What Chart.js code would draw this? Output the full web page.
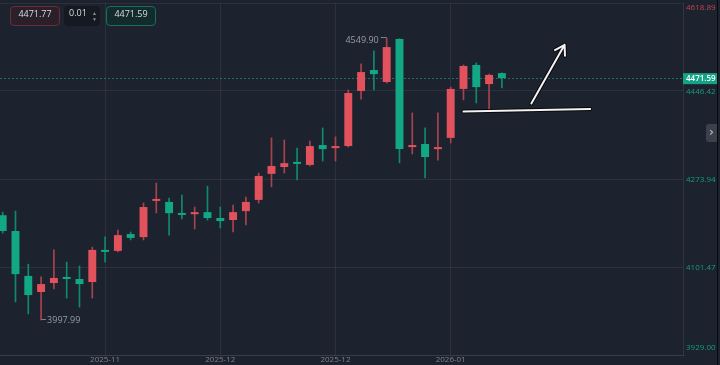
<!DOCTYPE html>
<html>
<head>
<meta charset="utf-8">
<script src="https://cdn.jsdelivr.net/npm/chart.js@4.4.1/dist/chart.umd.min.js"></script>
<style>
  html, body { margin: 0; padding: 0; background: #1c222e; }
  #wrap { position: relative; width: 720px; height: 365px; overflow: hidden; }
  canvas { position: absolute; left: 0; top: 0; }
  .box { position: absolute; top: 6px; height: 20px; line-height: 20px; border-radius: 4px;
         font: 9px "Open Sans", sans-serif; color: #d9dce1; text-align: center; box-sizing: border-box; }
  #ask { left: 10px; width: 50px; border: 1px solid #6c2e39; background: #2a2029; }
  #step { left: 64px; width: 36px; background: #141922; text-align: left; padding-left: 5px; }
  #step span { position: absolute; right: 3px; top: 0; font-size: 5px; line-height: 6px; color: #8a909b; padding-top: 4px; }
  #bid { left: 106px; width: 50px; border: 1px solid #176f5f; background: #142b2c; }
  #tab { position: absolute; left: 706px; top: 124px; width: 11px; height: 18px; background: #3a404c;
         border-radius: 3px 0 0 3px; color: #c4c8cf; font: 12px "DejaVu Sans", sans-serif; line-height: 17px; text-align: center; }
  #edge { position: absolute; left: 717px; top: 0; width: 1px; height: 365px; background: #07090d; }
</style>
</head>
<body>
<div id="wrap">
  <canvas id="chart" width="720" height="365"></canvas>
  <div class="box" id="ask">4471.77</div>
  <div class="box" id="step">0.01<span>▲<br>▼</span></div>
  <div class="box" id="bid">4471.59</div>
  <div id="tab">›</div>
  <div id="edge"></div>
</div>
<script>
// candles, one per slot (index 0..39)
var opens  = [4203, 4172, 4084, 4052.5, 4070, 4082, 4078, 4072, 4135, 4133,
              4166, 4160, 4231, 4229, 4207, 4205, 4209, 4197.5, 4193.5, 4211,
              4233, 4284, 4297.5, 4307, 4301.5, 4340.5, 4334.5, 4338.5, 4446.5, 4487.5,
              4464, 4548.5, 4336.5, 4342.5, 4332.5, 4354.5, 4450.5, 4497.5, 4460, 4481.5];
var highs  = [4209, 4211, 4107, 4082, 4135, 4111, 4103.5, 4140.5, 4160.5, 4174,
              4170, 4227, 4266, 4236.5, 4242.5, 4219, 4260, 4219, 4223, 4238.5,
              4285.5, 4354.5, 4350.5, 4334.5, 4348.5, 4374, 4356.5, 4448.5, 4499.5, 4525,
              4549.9, 4549, 4403.5, 4374, 4403.5, 4454, 4497.5, 4501.5, 4479.5, 4482];
var lows   = [4168, 4033, 4009.5, 3997.99, 4058.5, 4040.5, 4023, 4040.5, 4111, 4131,
              4154.5, 4154.5, 4207.5, 4164, 4195.5, 4176, 4193.5, 4178, 4170, 4184,
              4227, 4258.5, 4285.5, 4272, 4299.5, 4309, 4309, 4336.5, 4430.5, 4448.5,
              4462, 4305.5, 4323, 4276, 4311, 4344.5, 4429, 4423, 4409, 4452.5];
var closes = [4172, 4087.5, 4046.5, 4068, 4080, 4078, 4068, 4135, 4131, 4164,
              4158.5, 4219, 4233, 4207, 4203.5, 4209, 4197.5, 4191.5, 4209, 4229,
              4280, 4299.5, 4305, 4303.5, 4338.5, 4332.5, 4338.5, 4442.5, 4483.5, 4479.5,
              4532.5, 4332.5, 4340.5, 4317, 4334.5, 4450.5, 4495.5, 4454, 4478, 4471.59];

var xTickPos = [8, 17, 26, 35];
var xTickLabels = ['2025-11', '2025-12', '2025-12', '2026-01'];
var yTicks = [3929.00, 4101.47, 4273.94, 4446.42, 4618.89];
var lastPrice = 4471.59;
var highMark = [30, 4549.90];
var lowMark = [3, 3997.99];

// hand drawn marks, in [slot, price]
var trendLine = [[36.0, 4406], [45.9, 4411]];
var arrowLine = [[41.3, 4422], [43.9, 4537]];

var UP = '#e2525c', DOWN = '#12a886';
var UP_WICK = '#a8434e', DOWN_WICK = '#0f8a70';
var GRID = 'rgba(255,255,255,0.065)';

var bodies = [], wicks = [], bodyCol = [], wickCol = [];
for (var i = 0; i < opens.length; i++) {
    var up = closes[i] >= opens[i];
    bodies.push({ x: i, y: [Math.min(opens[i], closes[i]), Math.max(opens[i], closes[i])] });
    wicks.push({ x: i, y: [lows[i], highs[i]] });
    bodyCol.push(up ? UP : DOWN);
    wickCol.push(up ? UP_WICK : DOWN_WICK);
}

var bgPlugin = {
    id: 'bg',
    beforeDraw: function (chart) {
        var c = chart.ctx;
        c.save();
        c.fillStyle = '#1c222e';
        c.fillRect(0, 0, chart.width, chart.height);
        c.restore();
    }
};

var priceLine = {
    id: 'priceLine',
    beforeDatasetsDraw: function (chart) {
        var c = chart.ctx, a = chart.chartArea;
        var y = chart.scales.y.getPixelForValue(lastPrice);
        c.save();
        c.strokeStyle = '#1f6e61';
        c.lineWidth = 1;
        c.setLineDash([2, 2]);
        c.beginPath();
        c.moveTo(a.left, Math.round(y) + 0.5);
        c.lineTo(a.right, Math.round(y) + 0.5);
        c.stroke();
        c.restore();
    }
};

var marks = {
    id: 'marks',
    afterDatasetsDraw: function (chart) {
        var c = chart.ctx, xs = chart.scales.x, ys = chart.scales.y;
        c.save();
        c.font = '9px "Open Sans", sans-serif';
        c.fillStyle = '#979ca6';
        c.strokeStyle = '#7b808a';
        c.lineWidth = 1;
        c.textBaseline = 'middle';

        // high label
        var hx = xs.getPixelForValue(highMark[0]), hy = ys.getPixelForValue(highMark[1]);
        c.beginPath();
        c.moveTo(hx - 6, Math.round(hy) - 0.5);
        c.lineTo(hx, Math.round(hy) - 0.5);
        c.stroke();
        c.textAlign = 'right';
        c.fillText(highMark[1].toFixed(2), hx - 8, hy + 2);

        // low label
        var lx = xs.getPixelForValue(lowMark[0]), ly = ys.getPixelForValue(lowMark[1]);
        c.beginPath();
        c.moveTo(lx, Math.round(ly) - 0.5);
        c.lineTo(lx + 5, Math.round(ly) - 0.5);
        c.stroke();
        c.textAlign = 'left';
        c.fillText(lowMark[1].toFixed(2), lx + 6, ly + 1);

        // hand drawn line + arrow
        function px(p) { return [xs.getPixelForValue(p[0]), ys.getPixelForValue(p[1])]; }
        var t0 = px(trendLine[0]), t1 = px(trendLine[1]);
        var a0 = px(arrowLine[0]), a1 = px(arrowLine[1]);
        var ang = Math.atan2(a1[1] - a0[1], a1[0] - a0[0]);
        var head = 11;
        function drawMarks(color, w) {
            c.strokeStyle = color;
            c.lineWidth = w;
            c.lineCap = 'round';
            c.lineJoin = 'round';
            c.beginPath();
            c.moveTo(t0[0], t0[1]);
            c.lineTo(t1[0], t1[1]);
            c.moveTo(a0[0], a0[1]);
            c.lineTo(a1[0], a1[1]);
            c.moveTo(a1[0] + head * Math.cos(ang + Math.PI - 0.55), a1[1] + head * Math.sin(ang + Math.PI - 0.55));
            c.lineTo(a1[0], a1[1]);
            c.lineTo(a1[0] + head * Math.cos(ang + Math.PI + 0.55), a1[1] + head * Math.sin(ang + Math.PI + 0.55));
            c.stroke();
        }
        drawMarks('rgba(0,0,0,0.75)', 4);
        drawMarks('#f2f2f2', 2);
        c.restore();
    }
};

var yLabels = {
    id: 'yLabels',
    afterDraw: function (chart) {
        var c = chart.ctx, ys = chart.scales.y;
        var x0 = ys.left + 3;
        c.save();
        c.font = '8px "Open Sans", sans-serif';
        c.textBaseline = 'middle';
        c.textAlign = 'left';
        yTicks.forEach(function (v, k) {
            var y = ys.getPixelForValue(v) + 1;
            y = Math.max(8, Math.min(348, y));
            c.fillStyle = k === yTicks.length - 1 ? '#c0454f' : '#169c81';
            c.fillText(v.toFixed(2), x0, y);
        });
        // last price tag
        var py = ys.getPixelForValue(lastPrice);
        c.fillStyle = '#13a386';
        c.fillRect(ys.left, py - 5, 34, 11);
        c.fillStyle = '#ffffff';
        c.font = '600 8px "Open Sans", sans-serif';
        c.fillText(lastPrice.toFixed(2), x0, py + 0.5);
        c.restore();
    }
};

new Chart(document.getElementById('chart'), {
    type: 'bar',
    data: {
        datasets: [
            {
                label: 'body',
                data: bodies,
                backgroundColor: bodyCol,
                borderWidth: 0,
                grouped: false,
                categoryPercentage: 1,
                barPercentage: 0.62,
                minBarLength: 2
            },
            {
                label: 'wick',
                data: wicks,
                backgroundColor: wickCol,
                borderWidth: 0,
                grouped: false,
                barThickness: 1
            }
        ]
    },
    options: {
        responsive: false,
        animation: false,
        events: [],
        layout: { padding: { top: 3, left: 0, right: 0, bottom: 0 } },
        plugins: { legend: { display: false }, tooltip: { enabled: false } },
        scales: {
            x: {
                type: 'linear',
                min: -0.21,
                max: 53.15,
                offset: false,
                grid: { color: GRID, offset: false, drawTicks: false },
                border: { color: GRID },
                afterBuildTicks: function (s) {
                    s.ticks = xTickPos.map(function (v) { return { value: v }; });
                },
                afterFit: function (s) { s.height = 10; },
                ticks: {
                    autoSkip: false,
                    maxRotation: 0,
                    padding: 0,
                    color: '#7d8390',
                    font: { family: '"Open Sans", sans-serif', size: 8 },
                    callback: function (v) {
                        var k = xTickPos.indexOf(v);
                        return k < 0 ? '' : xTickLabels[k];
                    }
                }
            },
            y: {
                position: 'right',
                min: 3929,
                max: 4618.89,
                grid: { color: GRID, drawTicks: false },
                border: { color: 'rgba(255,255,255,0.09)' },
                afterBuildTicks: function (s) {
                    s.ticks = yTicks.map(function (v) { return { value: v }; });
                },
                afterFit: function (s) { s.width = 37; },
                ticks: { display: false }
            }
        }
    },
    plugins: [bgPlugin, priceLine, marks, yLabels]
});
</script>
</body>
</html>
